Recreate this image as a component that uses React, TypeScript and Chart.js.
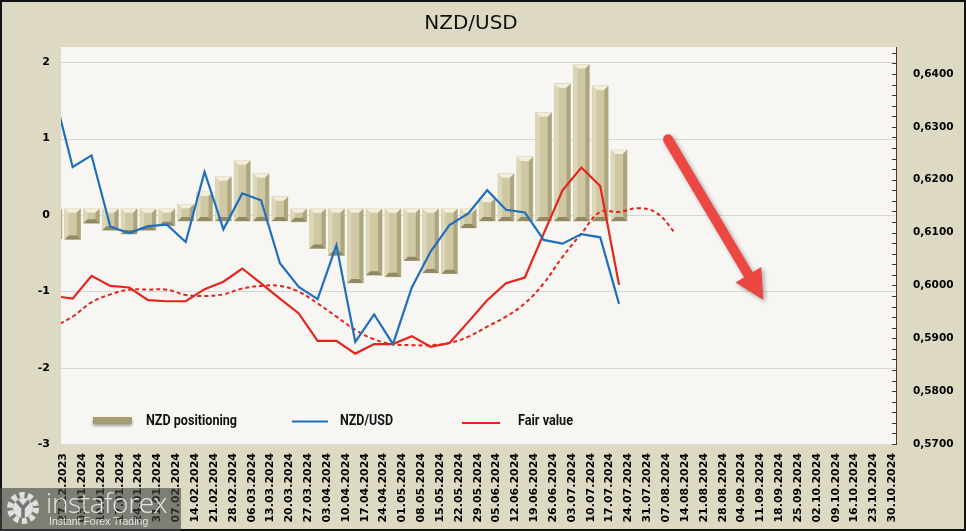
import { useEffect, useRef } from "react";
import { Chart, registerables } from "chart.js";

Chart.register(...registerables);

// ---- tick labels (weekly) ----
const dateLabels = [
  "27.12.2023", "03.01.2024", "10.01.2024", "17.01.2024", "24.01.2024", "31.01.2024",
  "07.02.2024", "14.02.2024", "21.02.2024", "28.02.2024", "06.03.2024", "13.03.2024",
  "20.03.2024", "27.03.2024", "03.04.2024", "10.04.2024", "17.04.2024", "24.04.2024",
  "01.05.2024", "08.05.2024", "15.05.2024", "22.05.2024", "29.05.2024", "05.06.2024",
  "12.06.2024", "19.06.2024", "26.06.2024", "03.07.2024", "10.07.2024", "17.07.2024",
  "24.07.2024", "31.07.2024", "07.08.2024", "14.08.2024", "21.08.2024", "28.08.2024",
  "04.09.2024", "11.09.2024", "18.09.2024", "25.09.2024", "02.10.2024", "09.10.2024",
  "16.10.2024", "23.10.2024", "30.10.2024",
];

// ---- series (first value belongs to the week before the first label) ----
const nzdPositioning = [
  -0.31, -0.32, -0.11, -0.2, -0.25, -0.2, -0.14, 0.14, 0.3, 0.5, 0.71, 0.54, 0.24, -0.09,
  -0.44, -0.53, -0.89, -0.79, -0.81, -0.6, -0.76, -0.77, -0.17, 0.22, 0.54, 0.76, 1.34,
  1.72, 1.97, 1.69, 0.85,
];

const nzdUsd = [
  0.6365, 0.6224, 0.6246, 0.6111, 0.6099, 0.6112, 0.6115, 0.6082, 0.6215, 0.6106, 0.6174,
  0.6161, 0.6042, 0.5997, 0.5974, 0.6076, 0.5893, 0.5945, 0.5889, 0.5996, 0.6064, 0.6114,
  0.6136, 0.618, 0.6143, 0.6138, 0.6086, 0.6079, 0.6097, 0.6091, 0.5965,
];

const fairValue = [
  0.598, 0.5975, 0.6018, 0.5999, 0.5996, 0.5972, 0.597, 0.597, 0.5993, 0.6007, 0.6032,
  0.6004, 0.5975, 0.5947, 0.5895, 0.5895, 0.5871, 0.5889, 0.5889, 0.5904, 0.5884, 0.5891,
  0.5931, 0.5972, 0.6004, 0.6015, 0.6098, 0.618, 0.6223, 0.6188, 0.6001,
];

const fairValueAvg = [
  0.5922, 0.5941, 0.5968, 0.5983, 0.5992, 0.5992, 0.5992, 0.5982, 0.598, 0.5983, 0.5994,
  0.5999, 0.5999, 0.5988, 0.5966, 0.5941, 0.5916, 0.5898, 0.5889, 0.5887, 0.5887, 0.5891,
  0.5903, 0.5922, 0.5941, 0.5966, 0.6004, 0.6054, 0.6098, 0.6139, 0.6139, 0.6146, 0.6137,
  0.6098,
];

// position of the first series value on the week axis (half a week before first label)
const SERIES_START = -0.5;
// bevel base offset of the 3D columns (left axis units)
const BAR_BEVEL_BASE = 0.08;

// trend arrow, in axis units (x = week index, y = left axis)
const ARROW_FROM = { x: 32.1, y: 0.99 };
const ARROW_TO = { x: 37.15, y: -1.11 };

const legendItems = [
  { label: "NZD positioning", kind: "bar", color: "#A59D72" },
  { label: "NZD/USD", kind: "line", color: "#1F6FBF" },
  { label: "Fair value", kind: "line", color: "#E8231C" },
];

const toPoints = (arr: number[]) => arr.map((v, j) => ({ x: SERIES_START + j, y: v }));

const poly = (ctx: CanvasRenderingContext2D, pts: number[][], color: string) => {
  ctx.beginPath();
  ctx.moveTo(pts[0][0], pts[0][1]);
  for (let i = 1; i < pts.length; i++) ctx.lineTo(pts[i][0], pts[i][1]);
  ctx.closePath();
  ctx.fillStyle = color;
  ctx.fill();
};

const plotBgPlugin = {
  id: "plotBg",
  beforeDatasetsDraw(chart: any) {
    const { ctx, chartArea: a } = chart;
    ctx.save();
    ctx.fillStyle = "#F7F6F2";
    ctx.fillRect(a.left, a.top, a.right - a.left, a.bottom - a.top);
    const y = chart.scales.y;
    ctx.strokeStyle = "#D6D6D3";
    ctx.lineWidth = 1;
    y.ticks.forEach((t: any) => {
      const py = Math.round(y.getPixelForValue(t.value)) + 0.5;
      ctx.beginPath();
      ctx.moveTo(a.left, py);
      ctx.lineTo(a.right, py);
      ctx.stroke();
    });
    ctx.restore();
  },
};

const bevelPlugin = {
  id: "bevel",
  afterDatasetDraw(chart: any, args: any) {
    const ds = chart.data.datasets[args.index];
    if (ds.type !== "bar") return;
    const { ctx, chartArea: a } = chart;
    ctx.save();
    ctx.beginPath();
    ctx.rect(a.left, a.top, a.right - a.left, a.bottom - a.top);
    ctx.clip();
    args.meta.data.forEach((el: any) => {
      const { x, y, base, width } = el.getProps(["x", "y", "base", "width"], true);
      const l = x - width / 2;
      const r = x + width / 2;
      const t = Math.min(y, base);
      const b = Math.max(y, base);
      const bv = Math.min(4, (b - t) / 2);
      poly(ctx, [[l, t], [r, t], [r - bv, t + bv], [l + bv, t + bv]], "#F1EEDC");
      poly(ctx, [[l, t], [l + bv, t + bv], [l + bv, b - bv], [l, b]], "#DDD7BA");
      poly(ctx, [[r, t], [r, b], [r - bv, b - bv], [r - bv, t + bv]], "#ADA57E");
      poly(ctx, [[l, b], [r, b], [r - bv, b - bv], [l + bv, b - bv]], "#918963");
    });
    ctx.restore();
  },
};

const decorPlugin = {
  id: "decor",
  afterDatasetsDraw(chart: any) {
    const { ctx } = chart;
    const xs = chart.scales.x;
    const ys = chart.scales.y;
    const y1 = chart.scales.y1;

    // right axis minor ticks (pointing inward)
    ctx.save();
    ctx.strokeStyle = "#5E2E2E";
    ctx.lineWidth = 1;
    for (let i = 0; i <= 37; i++) {
      const py = Math.round(y1.getPixelForValue(y1.min + i * 0.002)) + 0.5;
      ctx.beginPath();
      ctx.moveTo(y1.left - 4, py);
      ctx.lineTo(y1.left, py);
      ctx.stroke();
    }
    ctx.restore();

    // arrow
    const x0 = xs.getPixelForValue(ARROW_FROM.x);
    const yy0 = ys.getPixelForValue(ARROW_FROM.y);
    const x1 = xs.getPixelForValue(ARROW_TO.x);
    const yy1 = ys.getPixelForValue(ARROW_TO.y);
    const dx = x1 - x0;
    const dy = yy1 - yy0;
    const len = Math.hypot(dx, dy);
    const ux = dx / len;
    const uy = dy / len;
    const headLen = 29;
    const headHalf = 15;
    const bx = x1 - ux * headLen;
    const by = yy1 - uy * headLen;
    ctx.save();
    ctx.shadowColor = "rgba(0,0,0,0.35)";
    ctx.shadowBlur = 4;
    ctx.shadowOffsetX = 2;
    ctx.shadowOffsetY = 2;
    ctx.strokeStyle = "#EC4742";
    ctx.fillStyle = "#EC4742";
    ctx.lineWidth = 10;
    ctx.lineCap = "round";
    ctx.beginPath();
    ctx.moveTo(x0, yy0);
    ctx.lineTo(bx + ux * 2, by + uy * 2);
    ctx.stroke();
    ctx.beginPath();
    ctx.moveTo(x1, yy1);
    ctx.lineTo(bx - uy * headHalf, by + ux * headHalf);
    ctx.lineTo(bx + uy * headHalf, by - ux * headHalf);
    ctx.closePath();
    ctx.fill();
    ctx.restore();
  },
  afterDraw(chart: any) {
    const { ctx } = chart;
    const cy = 421;
    const spots = [
      { sx: 93, sw: 39, tx: 146, tw: 91 },
      { sx: 292, sw: 36, tx: 340, tw: 53 },
      { sx: 462, sw: 38, tx: 518, tw: 55 },
    ];
    ctx.save();
    legendItems.forEach((it, i) => {
      const s = spots[i];
      if (it.kind === "bar") {
        ctx.save();
        ctx.shadowColor = "rgba(0,0,0,0.35)";
        ctx.shadowBlur = 3;
        ctx.shadowOffsetY = 2;
        ctx.fillStyle = it.color;
        ctx.fillRect(s.sx, cy - 4, s.sw, 7);
        ctx.restore();
      } else {
        ctx.strokeStyle = it.color;
        ctx.lineWidth = 2;
        ctx.beginPath();
        ctx.moveTo(s.sx, cy + (i === 2 ? 2 : 0.5));
        ctx.lineTo(s.sx + s.sw, cy + (i === 2 ? 2 : 0.5));
        ctx.stroke();
      }
      ctx.fillStyle = "#111";
      ctx.font = "bold 15px Roboto, 'Liberation Sans', sans-serif";
      ctx.textBaseline = "middle";
      ctx.textAlign = "left";
      ctx.fillText(it.label, s.tx, cy + 0.5, s.tw);
    });
    ctx.restore();
  },
};

const tickFont = { family: '"DejaVu Sans", Verdana, sans-serif', size: 11, weight: "bold" as const };

export default function App() {
  const ref = useRef<HTMLCanvasElement>(null);

  useEffect(() => {
    const chart = new Chart(ref.current as HTMLCanvasElement, {
      type: "line",
      data: {
        datasets: [
          {
            type: "line",
            label: "NZD/USD",
            data: toPoints(nzdUsd),
            yAxisID: "y1",
            borderColor: "#1F6FBF",
            borderWidth: 2.2,
            pointRadius: 0,
            tension: 0,
            clip: 0,
          } as any,
          {
            type: "line",
            label: "Fair value",
            data: toPoints(fairValue),
            yAxisID: "y1",
            borderColor: "#E8231C",
            borderWidth: 2.2,
            pointRadius: 0,
            tension: 0,
            clip: 0,
          },
          {
            type: "line",
            label: "Fair value avg",
            data: toPoints(fairValueAvg),
            yAxisID: "y1",
            borderColor: "#E2231C",
            borderWidth: 2,
            borderDash: [4, 3],
            pointRadius: 0,
            tension: 0.4,
            clip: 0,
          },
          {
            type: "bar",
            label: "NZD positioning",
            data: nzdPositioning.map((v, j) => ({
              x: SERIES_START + j,
              y: [v >= 0 ? -BAR_BEVEL_BASE : BAR_BEVEL_BASE, v],
            })),
            yAxisID: "y",
            backgroundColor: "#CFC8A3",
            borderWidth: 0,
            barThickness: 16,
            clip: 0,
          },
        ],
      } as any,
      options: {
        responsive: false,
        animation: false,
        layout: { padding: { top: 47, left: 0, right: 0, bottom: 0 } },
        plugins: { legend: { display: false }, title: { display: false }, tooltip: { enabled: false } },
        scales: {
          x: {
            type: "linear",
            offset: false,
            min: -0.12,
            max: 44.2,
            grid: { display: false, offset: false, drawTicks: false },
            border: { display: false },
            afterFit: (s: any) => {
              s.height = 87;
            },
            afterBuildTicks: (s: any) => {
              s.ticks = s.ticks.filter((t: any) => Number.isInteger(t.value) && t.value >= 0 && t.value < dateLabels.length);
            },
            ticks: {
              stepSize: 1,
              includeBounds: false,
              autoSkip: false,
              minRotation: 90,
              maxRotation: 90,
              padding: 9,
              color: "#000",
              font: tickFont,
              callback: (v: any) => dateLabels[Math.round(Number(v))] ?? "",
            },
          },
          y: {
            type: "linear",
            position: "left",
            min: -3,
            max: 2.2,
            afterFit: (s: any) => {
              s.width = 61;
            },
            grid: { display: false, drawTicks: false },
            border: { display: false },
            ticks: {
              stepSize: 1,
              includeBounds: false,
              padding: 11,
              color: "#000",
              font: tickFont,
            },
          },
          y1: {
            type: "linear",
            position: "right",
            min: 0.57,
            max: 0.6451,
            afterFit: (s: any) => {
              s.width = 70;
            },
            grid: { display: false, drawOnChartArea: false, drawTicks: false },
            border: { display: true, color: "#5E2E2E", width: 1 },
            ticks: {
              stepSize: 0.01,
              includeBounds: false,
              padding: 17,
              color: "#000",
              font: { ...tickFont, size: 10.5 },
              callback: (v: any) => Number(v).toFixed(4).replace(".", ","),
            },
          },
        },
      } as any,
      plugins: [plotBgPlugin, bevelPlugin, decorPlugin],
    });
    return () => chart.destroy();
  }, []);

  return (
    <div
      style={{
        position: "fixed",
        left: 0,
        top: 0,
        width: 966,
        height: 531,
        background: "#DDD9C3",
        overflow: "hidden",
      }}
    >
      <canvas ref={ref} width={966} height={531} style={{ position: "absolute", left: 0, top: 0 }} />
      <div
        style={{
          position: "absolute",
          left: -12,
          top: 12,
          width: 966,
          textAlign: "center",
          fontFamily: '"DejaVu Sans", Verdana, sans-serif',
          fontSize: 20,
          lineHeight: "21px",
          color: "#111",
        }}
      >
        NZD/USD
      </div>
      <div
        style={{
          position: "absolute",
          left: 0,
          top: 0,
          width: 966,
          height: 531,
          boxSizing: "border-box",
          border: "2px solid #111",
          pointerEvents: "none",
        }}
      />
      <div
        style={{
          position: "absolute",
          left: 0,
          top: 488,
          width: 181,
          height: 43,
          background: "rgba(70,70,70,0.62)",
        }}
      >
        <svg width="34" height="34" style={{ position: "absolute", left: 6, top: 3 }}>
          <circle cx="17" cy="17" r="13" fill="none" stroke="rgba(235,235,235,0.9)" strokeWidth="6" strokeDasharray="5 3.2" />
          <circle cx="17" cy="17" r="10" fill="rgba(235,235,235,0.9)" />
          <path d="M11 10 L17 17 L23 10 M17 17 L17 27" stroke="rgb(118,118,116)" strokeWidth="3.5" fill="none" />
        </svg>
        <div
          style={{
            position: "absolute",
            left: 46,
            top: 0,
            fontFamily: '"Open Sans", sans-serif',
            fontWeight: 300,
            fontSize: 28,
            lineHeight: "28px",
            letterSpacing: "-0.4px",
            color: "rgba(238,238,238,0.9)",
            whiteSpace: "nowrap",
          }}
        >
          instaforex
        </div>
        <div
          style={{
            position: "absolute",
            left: 49,
            top: 27.5,
            fontFamily: '"Liberation Sans", Arial, sans-serif',
            fontSize: 10.5,
            lineHeight: "11px",
            color: "rgba(238,238,238,0.9)",
            whiteSpace: "nowrap",
          }}
        >
          Instant Forex Trading
        </div>
      </div>
    </div>
  );
}
